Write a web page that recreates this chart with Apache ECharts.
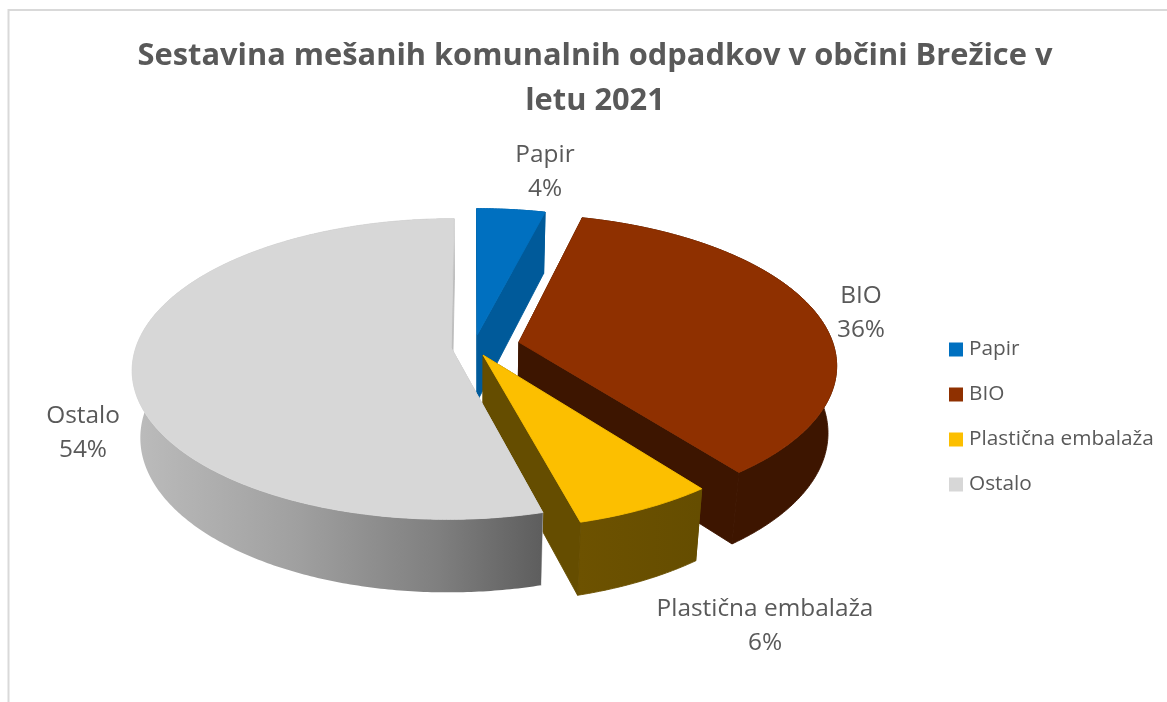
<!DOCTYPE html>
<html><head><meta charset="utf-8">
<style>html,body{margin:0;padding:0;background:#fff}#c{width:1167px;height:702px}</style>
<script src="https://cdn.jsdelivr.net/npm/echarts@6/dist/echarts.min.js"></script>
</head><body><div id="c"></div>
<script>
var titleText = 'Sestavina mešanih komunalnih odpadkov v občini Brežice v\nletu 2021';
var categories = ['Papir', 'BIO', 'Plastična embalaža', 'Ostalo'];
var values = [4, 35.6, 6.2, 54.2];

var topColors = ['#0070C0', '#8F3000', '#FCBF00', '#D7D7D7'];
var explode = [0.08, 0.146, 0.065, 0.073];
var labelCenters = [[545, 172], [861, 313], [765, 626], [83, 433]];
var drawOrder = [0, 1, 2, 3];
var FONT = '"Open Sans", sans-serif';
var P = {x0: 474, y0: 346.5, a: 315, b: 147, h: 68.6, k: 0.14, m: 0.024};

var total = values.reduce(function (s, v) { return s + v; }, 0);
function sliceAngles(i) {
  var before = 0;
  for (var j = 0; j < i; j++) before += values[j];
  return [before / total * 2 * Math.PI, (before + values[i]) / total * 2 * Math.PI];
}
function project(u, v, z) {
  var w = 1 - P.k * v + P.m * z;
  return [P.x0 + P.a * u / w, P.y0 + (P.b * v + P.h * z) / w];
}
function wallFill(i) {
  if (i === 3) return {type: 'linear', x: 133, y: 0, x2: 541, y2: 0, global: true, colorStops: [
    {offset: 0, color: '#bcbcbc'}, {offset: 0.4, color: '#a0a0a0'},
    {offset: 0.75, color: '#7f7f7f'}, {offset: 1, color: '#5e5e5e'}]};
  if (i === 2) return {type: 'linear', x: 578, y: 0, x2: 700, y2: 0, global: true, colorStops: [
    {offset: 0, color: '#6d5200'}, {offset: 1, color: '#654d00'}]};
  return i === 1 ? '#3D1500' : '#005A9A';
}
function faceFill(i) {
  return ['#005A9A', '#3D1500', '#654D00', '#BDBDBD'][i];
}
function renderSlice(i) {
  var ang = sliceAngles(i), mid = (ang[0] + ang[1]) / 2;
  var du = Math.sin(mid) * explode[i], dv = -Math.cos(mid) * explode[i];
  var topRim = [], botRim = [], n = Math.max(2, Math.ceil((ang[1] - ang[0]) * 90));
  for (var s = 0; s <= n; s++) {
    var t = ang[0] + (ang[1] - ang[0]) * s / n;
    var u = du + Math.sin(t), v = dv - Math.cos(t);
    topRim.push(project(u, v, 0));
    botRim.push(project(u, v, 1));
  }
  var apexTop = project(du, dv, 0), apexBot = project(du, dv, 1);
  function poly(pts, fill, solid) {
    var style = {fill: fill, lineWidth: 0.9};
    style.stroke = solid || fill;
    return {type: 'polygon', shape: {points: pts}, style: style, silent: true};
  }
  var wall = topRim.concat(botRim.slice().reverse());
  var last = topRim.length - 1;
  return {type: 'group', children: [
    poly([apexTop, topRim[0], botRim[0], apexBot], faceFill(i)),
    poly(wall, wallFill(i), i === 3 ? 'rgba(0,0,0,0)' : null),
    poly([apexTop, topRim[last], botRim[last], apexBot], faceFill(i)),
    poly([apexTop].concat(topRim), topColors[i])
  ]};
}
var series = drawOrder.map(function (i) {
  return {
    name: categories[i], type: 'custom', coordinateSystem: 'none',
    data: [values[i]], itemStyle: {color: topColors[i]}, z: 2 + i, silent: true,
    renderItem: function () { return renderSlice(i); }
  };
});
var labels = categories.map(function (name, i) {
  return {type: 'text', x: labelCenters[i][0], y: labelCenters[i][1], z: 20, silent: true,
    style: {text: name + '\n' + Math.round(values[i] / total * 100) + '%',
      align: 'center', verticalAlign: 'middle', fill: '#595959',
      font: '24.4px ' + FONT, lineHeight: 34}};
});
var chart = echarts.init(document.getElementById('c'), null, {renderer: 'canvas'});
chart.setOption({
  animation: false,
  backgroundColor: '#fff',
  title: {text: titleText, left: 590, top: 29, textAlign: 'center',
    textStyle: {fontFamily: FONT, fontWeight: 'bold', fontSize: 30.8, color: '#595959', lineHeight: 45}},
  legend: {orient: 'vertical', left: 949, top: 339, itemWidth: 14, itemHeight: 14, itemGap: 24,
    icon: 'rect', selectedMode: false, data: categories,
    textStyle: {fontFamily: FONT, fontSize: 20.8, color: '#595959', lineHeight: 18, padding: [0, 0, 0, 1]}, padding: 0},
  graphic: {elements: [
    {type: 'polyline', silent: true, shape: {points: [[8.5, 702], [8.5, 10], [1167, 10]]},
      style: {stroke: '#D9D9D9', lineWidth: 2, fill: null}}
  ].concat(labels)},
  series: series
});
</script></body></html>
